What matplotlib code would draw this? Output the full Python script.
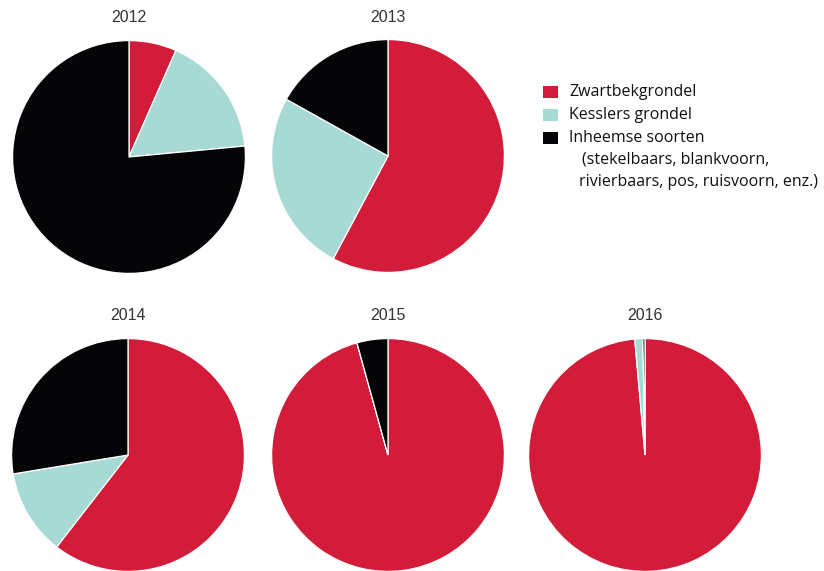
import matplotlib
matplotlib.use('Agg')
import matplotlib.pyplot as plt
from matplotlib.patches import Rectangle

W, H = 824, 571

years = ['2012', '2013', '2014', '2015', '2016']
# shares (%) per year: zwartbekgrondel, kesslers grondel, inheemse soorten
zwartbek = [6.6, 57.8, 60.5, 95.7, 98.6]
kessler = [16.9, 25.3, 11.9, 0.0, 1.1]
inheems = [76.5, 16.9, 27.6, 4.3, 0.3]

species = ['Zwartbekgrondel', 'Kesslers grondel', 'Inheemse soorten']
colors = ['#d21c3a', '#a8dad5', '#050507']

# pie centres in pixels (x, y from top) and radius
centres = [(129, 157), (388, 156), (128, 455), (388, 455), (645, 455)]
radius = 117

fig = plt.figure(figsize=(W / 100, H / 100), dpi=100)
fig.patch.set_facecolor('white')

for i, year in enumerate(years):
    cx, cy = centres[i]
    ax = fig.add_axes([(cx - radius) / W, 1 - (cy + radius) / H,
                       2 * radius / W, 2 * radius / H])
    vals = [zwartbek[i], kessler[i], inheems[i]]
    ax.pie(vals, colors=colors, startangle=90, counterclock=False, radius=1,
           wedgeprops=dict(edgecolor='white', linewidth=0.9))
    ax.set_xlim(-1.005, 1.005)
    ax.set_ylim(-1.005, 1.005)
    ax.set_aspect('equal')
    ax.axis('off')
    fig.text(cx / W, 1 - (cy - radius - 22) / H, year, ha='center', va='center',
             fontsize=11.5, color='#333333', family='Liberation Sans')

# legend
leg_font = dict(fontsize=11.5, color='#111111', family='Open Sans', va='center')
rows_y = [92, 115, 138]
for name, col, y in zip(species, colors, rows_y):
    fig.patches.append(Rectangle((543 / W, 1 - (y + 6) / H), 15 / W, 12 / H,
                                 transform=fig.transFigure, facecolor=col,
                                 edgecolor='none'))
    fig.text(569 / W, 1 - y / H, name, **leg_font)
fig.text(582 / W, 1 - 160 / H, '(stekelbaars, blankvoorn,', **leg_font)
fig.text(579 / W, 1 - 182 / H, 'rivierbaars, pos, ruisvoorn, enz.)', **leg_font)

fig.savefig('out.png', dpi=100, facecolor='white')
